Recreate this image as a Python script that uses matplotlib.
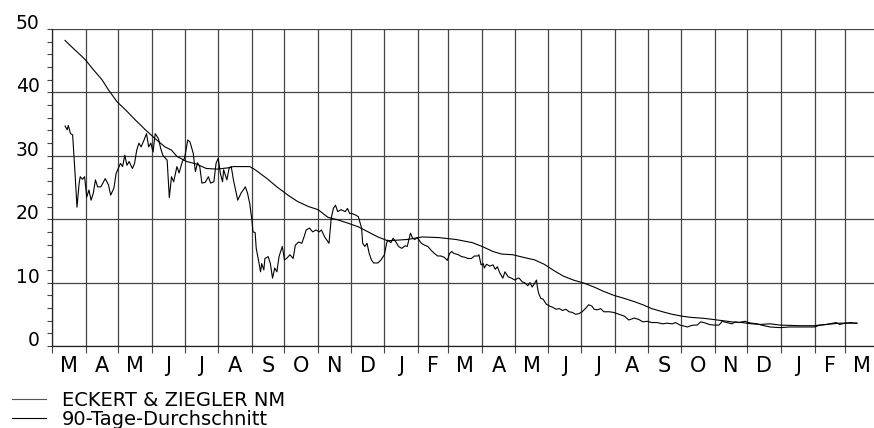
import pandas as pd
from matplotlib import pyplot as plt
from matplotlib.lines import Line2D

# Tage ab 1. März, Kurs in EUR
kurs_tag = [12, 14, 15, 17, 19, 21, 23, 25, 26, 28, 30, 32, 34, 36, 38, 40, 42, 45, 49, 52,
            54, 57, 59, 61, 63, 65, 67, 69, 71, 74, 76, 78, 80, 82, 85, 87, 89, 91, 93, 95,
            98, 100, 102, 106, 108, 110, 112, 115, 117, 120, 122, 125, 127, 130, 132, 134, 136, 138, 141, 144,
            146, 149, 151, 153, 155, 157, 158, 161, 163, 165, 167, 169, 171, 174, 178, 180, 182, 184, 185, 187,
            188, 190, 192, 193, 195, 196, 199, 201, 203, 205, 207, 209, 212, 214, 216, 219, 222, 224, 227, 230,
            232, 234, 237, 240, 243, 246, 248, 251, 255, 257, 259, 261, 263, 266, 270, 272, 274, 276, 279, 282,
            285, 286, 288, 290, 292, 294, 296, 300, 303, 306, 308, 309, 312, 314, 317, 319, 322, 325, 327, 328,
            330, 332, 334, 336, 338, 340, 343, 346, 349, 352, 355, 358, 361, 364, 366, 368, 370, 374, 377, 380,
            383, 386, 389, 392, 393, 395, 397, 398, 400, 403, 406, 408, 410, 412, 415, 417, 420, 423, 426, 429,
            430, 433, 435, 438, 440, 442, 444, 446, 447, 448, 450, 452, 455, 458, 461, 464, 467, 470, 473, 476,
            479, 482, 485, 488, 491, 494, 497, 499, 502, 505, 508, 513, 517, 522, 527, 531, 536, 540, 544, 548,
            552, 557, 562, 566, 571, 574, 578, 585, 588, 591, 594, 597, 600, 605, 609, 614, 617, 621, 626, 629,
            632, 635, 638, 641, 644, 649, 653, 661, 670, 679, 689, 698, 702, 707, 713, 719, 722, 725, 730, 735,
            739, 741]
kurs_wert = [34.7, 34.1, 34.8, 33.5, 33.3, 27.8, 21.9, 25.7, 26.7, 26.3, 26.7, 23.5, 24.6, 23.0, 24.1, 26.2, 25.1, 25.1, 26.4, 25.4,
             23.8, 24.9, 27.2, 28.0, 28.8, 28.3, 30.1, 28.5, 29.1, 28.0, 28.8, 30.9, 32.0, 31.4, 32.6, 33.5, 31.4, 32.0, 30.6, 33.5,
             32.7, 31.2, 30.1, 29.3, 23.4, 26.7, 25.9, 28.3, 27.3, 29.1, 29.6, 32.5, 32.2, 30.4, 27.5, 28.9, 28.3, 25.7, 25.8, 26.7,
             25.7, 25.9, 28.8, 29.6, 27.2, 25.9, 27.8, 26.2, 28.0, 28.3, 26.2, 24.6, 23.0, 24.1, 25.1, 24.1, 22.5, 19.9, 18.0, 17.9,
             15.4, 13.6, 11.7, 13.0, 12.0, 13.8, 14.1, 13.0, 10.7, 12.3, 11.7, 14.1, 15.7, 13.6, 13.8, 14.4, 13.8, 15.9, 16.4, 16.2,
             17.2, 18.3, 18.6, 18.0, 18.3, 18.0, 18.3, 17.2, 16.2, 20.1, 21.7, 22.2, 21.2, 21.5, 21.2, 21.7, 20.9, 20.9, 20.7, 20.4,
             18.6, 16.2, 15.7, 16.2, 14.6, 13.6, 13.1, 13.1, 13.6, 14.4, 16.2, 16.7, 16.3, 17.0, 16.3, 15.7, 15.4, 15.8, 15.7, 16.4,
             17.8, 17.0, 16.8, 17.1, 16.7, 16.2, 15.9, 15.7, 15.1, 14.6, 14.2, 14.2, 14.0, 13.5, 14.6, 14.9, 14.6, 14.4, 14.1, 14.0,
             13.8, 13.8, 14.2, 14.2, 14.4, 12.8, 13.0, 12.3, 12.9, 12.6, 12.8, 12.1, 12.5, 11.6, 10.7, 11.7, 10.9, 10.7, 10.4, 10.7,
             10.7, 10.1, 10.0, 9.5, 10.0, 9.3, 9.8, 10.4, 9.1, 8.3, 7.5, 7.4, 6.6, 6.3, 6.1, 5.8, 5.9, 5.6, 5.8, 5.4,
             5.3, 5.0, 5.1, 5.4, 5.9, 6.5, 6.3, 5.8, 5.7, 5.9, 5.4, 5.4, 5.3, 5.0, 4.7, 4.1, 4.4, 4.2, 3.8, 3.9,
             3.7, 3.7, 3.5, 3.6, 3.5, 3.7, 3.3, 3.0, 3.2, 3.3, 3.3, 3.8, 3.7, 3.4, 3.3, 3.3, 3.9, 3.7, 3.5, 3.8,
             3.7, 3.8, 3.9, 3.7, 3.6, 3.5, 3.3, 3.0, 2.9, 3.0, 3.0, 3.0, 3.0, 3.3, 3.4, 3.6, 3.7, 3.4, 3.6, 3.7,
             3.6, 3.6]

avg_tag = [12, 18, 28, 31, 37, 46, 52, 60, 68, 77, 86, 95, 104, 110, 115, 124, 133, 142, 152, 162,
           167, 182, 187, 198, 207, 218, 226, 236, 245, 254, 263, 272, 282, 291, 300, 309, 318, 327, 341, 356,
           372, 387, 396, 406, 414, 424, 436, 444, 453, 462, 471, 480, 490, 499, 508, 517, 527, 536, 544, 552,
           562, 571, 580, 589, 598, 608, 617, 626, 635, 644, 652, 661, 670, 689, 701, 713, 725, 741]
avg_wert = [48.2, 47.2, 45.6, 45.1, 43.8, 42.0, 40.4, 38.5, 37.2, 35.6, 34.1, 32.7, 31.4, 30.9, 29.9, 29.1, 28.7, 28.0, 27.9, 28.1,
            28.3, 28.3, 27.8, 26.4, 25.1, 23.7, 22.8, 22.0, 21.5, 20.3, 19.9, 19.4, 18.8, 18.0, 17.2, 16.6, 16.7, 16.8, 17.2, 17.1,
            16.8, 16.3, 15.7, 14.9, 14.5, 14.4, 13.9, 13.6, 12.9, 11.9, 11.0, 10.4, 9.9, 9.3, 8.6, 8.0, 7.5, 7.0, 6.5, 5.9,
            5.4, 5.0, 4.7, 4.5, 4.4, 4.2, 4.0, 3.8, 3.7, 3.5, 3.4, 3.5, 3.3, 3.2, 3.2, 3.4, 3.6, 3.6]

monate = list("MAMJJASONDJF" * 2 + "M")
start = pd.Timestamp("2001-03-01")
monatsanfang = pd.date_range(start, periods=len(monate), freq="MS")
grenzen = [(d - start).days for d in monatsanfang]
mitte = [(d - start).days + d.days_in_month / 2 for d in monatsanfang]

fig = plt.figure(figsize=(8.74, 4.28), dpi=100)
ax = fig.add_axes([52 / 874, 82 / 428, 822 / 874, 317 / 428])

gitter = "#444444"
ax.plot(kurs_tag, kurs_wert, color="black", lw=0.8)
ax.plot(avg_tag, avg_wert, color="black", lw=0.8)

ax.set_xlim(0, 756.7)
ax.set_ylim(0, 50)

ax.set_xticks(grenzen)
ax.set_xticklabels([])
ax.set_xticks(mitte, minor=True)
ax.set_xticklabels(monate, minor=True, fontsize=15)
ax.tick_params(axis="x", which="major", length=5, width=0.8, color=gitter)
ax.tick_params(axis="x", which="minor", length=0, pad=7.5)

ax.set_yticks(range(0, 51, 10))
ax.set_yticks(range(0, 51, 2), minor=True)
ax.tick_params(axis="y", which="both", length=3.3, width=0.8, color=gitter)
ax.tick_params(axis="y", which="major", labelsize=13.5, pad=5.5)
for lab in ax.get_yticklabels():
    lab.set_verticalalignment("baseline")

ax.grid(True, which="major", color=gitter, lw=0.9)
ax.set_axisbelow(True)
for s in ["top", "right"]:
    ax.spines[s].set_visible(False)
for s in ["left", "bottom"]:
    ax.spines[s].set_color("#222222")
    ax.spines[s].set_linewidth(0.9)

handles = [Line2D([], [], color="#555555", lw=0.8), Line2D([], [], color="black", lw=0.8)]
fig.legend(handles, ["ECKERT & ZIEGLER NM", "90-Tage-Durchschnitt"],
           loc="upper left", bbox_to_anchor=(12 / 874, 1 - 391 / 428),
           frameon=False, fontsize=14, borderpad=0, borderaxespad=0,
           handlelength=1.75, handletextpad=0.8, labelspacing=0)

plt.savefig("out.png", dpi=100)
